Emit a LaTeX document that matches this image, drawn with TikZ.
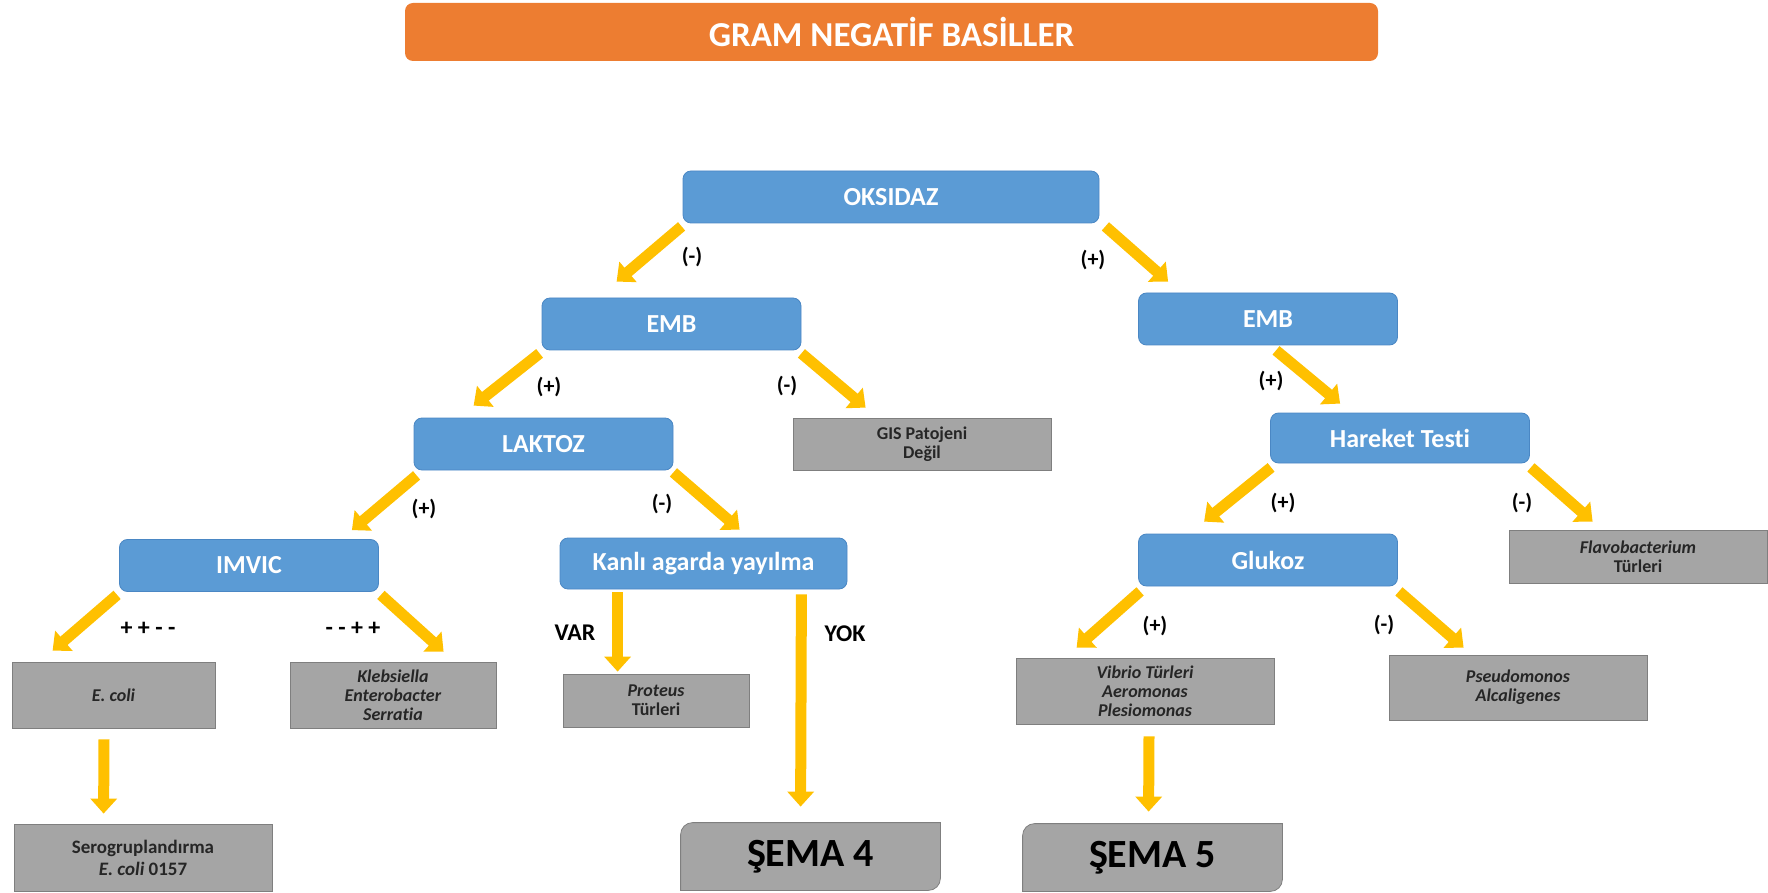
\documentclass[tikz,border=0pt]{standalone}
\usepackage{fontspec}
\setmainfont{Carlito}[Ligatures=CommonOff]
\usetikzlibrary{arrows.meta,calc}
\definecolor{titleorange}{HTML}{ED7D31}
\definecolor{boxblue}{HTML}{5B9BD5}
\definecolor{boxblueline}{HTML}{4A87C4}
\definecolor{boxgray}{HTML}{A5A5A5}
\definecolor{boxgrayline}{HTML}{7F7F7F}
\definecolor{arrowyellow}{HTML}{FFC000}
\definecolor{graytext}{HTML}{262626}

\begin{document}
\begin{tikzpicture}[x=0.5pt,y=-0.5pt,
    bluebox/.style={draw=boxblueline,fill=boxblue,rounded corners=4pt,text=white,
      font=\fontsize{13}{14}\selectfont\bfseries,minimum width=129.5pt,minimum height=26pt,inner sep=0pt},
    graybox/.style={draw=boxgrayline,fill=boxgray,text=graytext,align=center,
      font=\fontsize{9}{9.5}\selectfont\bfseries,minimum width=129pt,minimum height=33pt,inner sep=0pt},
    semabox/.style={text=black,font=\fontsize{20}{22}\selectfont\bfseries,
      minimum width=129.5pt,minimum height=33.5pt,inner sep=0pt},
    lbl/.style={font=\fontsize{11}{12}\selectfont\bfseries},
    yarrow/.style={draw=arrowyellow,line width=5.5pt,-{Triangle[width=13pt,length=7.5pt]}}]
  \useasboundingbox (0,0) rectangle (1768,893);

  % title
  \node[fill=titleorange,rounded corners=4pt,text=white,minimum width=486.5pt,minimum height=29pt,
    font=\fontsize{17.5}{19}\selectfont\bfseries] (title) at (891.5,32) {GRAM NEGATİF BASİLLER};

  % blue test boxes
  \node[bluebox,minimum width=208pt] (oksidaz) at (891,197) {OKSIDAZ};
  \node[bluebox] (embneg) at (671.5,324) {EMB};
  \node[bluebox] (embpos) at (1268,319) {EMB};
  \node[bluebox] (laktoz) at (543.5,444) {LAKTOZ};
  \node[bluebox,minimum height=25pt] (hareket) at (1400,438) {Hareket Testi};
  \node[bluebox] (imvic) at (249,565.5) {IMVIC};
  \node[bluebox,minimum width=143.5pt,minimum height=25.5pt] (kanli) at (703.5,563.5) {Kanlı agarda yayılma};
  \node[bluebox] (glukoz) at (1268,560) {Glukoz};

  % grey result boxes
  \node[graybox,minimum height=26pt] (gis) at (922,444) {GIS Patojeni\\Değil};
  \node[graybox,minimum height=26.5pt] (flavo) at (1638,556.5) {\textit{Flavobacterium}\\Türleri};
  \node[graybox,minimum width=101.5pt] (ecoli) at (113.5,695) {\textit{E. coli}};
  \node[graybox,minimum width=103pt] (klebs) at (393,695) {\textit{Klebsiella}\\\textit{Enterobacter}\\\textit{Serratia}};
  \node[graybox,minimum width=93pt,minimum height=26.5pt] (proteus) at (656,700.5) {\textit{Proteus}\\Türleri};
  \node[graybox] (vibrio) at (1145,691) {\textit{Vibrio Türleri}\\\textit{Aeromonas}\\\textit{Plesiomonas}};
  \node[graybox,minimum height=32.5pt] (pseudo) at (1518,687.5) {\textit{Pseudomonos}\\\textit{Alcaligenes}};
  \node[graybox,minimum height=33.5pt,font=\fontsize{9.5}{11}\selectfont\bfseries] (sero) at (143,857.5) {Serogruplandırma\\\textit{E. coli} 0157};

  % schema boxes, two corners rounded
  \node[semabox] (sema4) at (810.5,856.5) {};
  \node[semabox] (sema5) at (1152.5,857.5) {};
  \foreach \s in {sema4,sema5}
    \filldraw[fill=boxgray,draw=boxgrayline] (\s.south west) -- ([yshift=-6pt]\s.north west)
      arc[start angle=180,end angle=90,radius=6pt] -- (\s.north east)
      -- ([yshift=6pt]\s.south east) arc[start angle=0,end angle=-90,radius=6pt] -- cycle;
  \node[semabox] at (sema4) {ŞEMA 4};
  \node[semabox] at (sema5) {ŞEMA 5};

  % arrows
  \draw[yarrow] ($(oksidaz.south west)+(-1,3)$) -- ($(embneg.north west)+(75,-16)$);
  \draw[yarrow] ($(oksidaz.south east)+(6,3)$) -- ($(embpos.north west)+(30,-11)$);
  \draw[yarrow] ($(embneg.south west)+(-2,3)$) -- ($(laktoz.north west)+(60,-12)$);
  \draw[yarrow] ($(embneg.south east)+(0,3)$) -- ($(gis.north west)+(73,-10)$);
  \draw[yarrow] ($(embpos.south)+(8,5)$) -- ($(hareket.north west)+(70,-9)$);
  \draw[yarrow] ($(laktoz.south west)+(3,5)$) -- ($(imvic.north east)+(-27,-9)$);
  \draw[yarrow] ($(laktoz.south east)+(0,2)$) -- ($(kanli.north west)+(180,-8)$);
  \draw[yarrow] ($(hareket.south west)+(1,4)$) -- ($(glukoz.north west)+(66,-12)$);
  \draw[yarrow] ($(hareket.south east)+(1,4)$) -- ($(flavo.north west)+(84,-8)$);
  \draw[yarrow] ($(imvic.south west)+(-2,3)$) -- ($(ecoli.north west)+(41,-11)$);
  \draw[yarrow] ($(imvic.south east)+(2,3)$) -- ($(klebs.north west)+(154,-10)$);
  \draw[yarrow] ($(kanli.south west)+(58,3)$) -- ($(proteus.north west)+(55,-2)$);
  \draw[yarrow] ($(kanli.south east)+(-46,5)$) -- ($(sema4.north west)+(120,-16)$);
  \draw[yarrow] ($(glukoz.south west)+(2,5)$) -- ($(vibrio.north west)+(61,-10)$);
  \draw[yarrow] ($(glukoz.south east)+(1,5)$) -- ($(pseudo.north west)+(75,-7)$);
  \draw[yarrow] ($(ecoli.south)+(-9.5,11)$) -- ($(sero.north west)+(90,-10)$);
  \draw[yarrow] ($(vibrio.south)+(4,12)$) -- ($(sema5.north west)+(126,-12)$);

  % arrow labels
  \node[lbl] (oksneg) at (692,257) {(-)};
  \node[lbl] (okspos) at (1093,260) {(+)};
  \node[lbl] (embnegpos) at (549,387) {(+)};
  \node[lbl] (embnegneg) at (787,386) {(-)};
  \node[lbl] (embpospos) at (1271,381) {(+)};
  \node[lbl] (lakpos) at (424,509) {(+)};
  \node[lbl] (lakneg) at (662,504) {(-)};
  \node[lbl] (harpos) at (1283,503) {(+)};
  \node[lbl] (harneg) at (1522,503) {(-)};
  \node[lbl,font=\fontsize{12}{13}\selectfont\bfseries] (imvleft) at (148,629) {+ + - -};
  \node[lbl,font=\fontsize{12}{13}\selectfont\bfseries] (imvright) at (353,629) {- - + +};
  \node[lbl,font=\fontsize{12}{13}\selectfont\bfseries] (var) at (575,633) {VAR};
  \node[lbl,font=\fontsize{12}{13}\selectfont\bfseries] (yok) at (845,634) {YOK};
  \node[lbl] (glupos) at (1155,626) {(+)};
  \node[lbl] (gluneg) at (1384,625) {(-)};
\end{tikzpicture}
\end{document}
